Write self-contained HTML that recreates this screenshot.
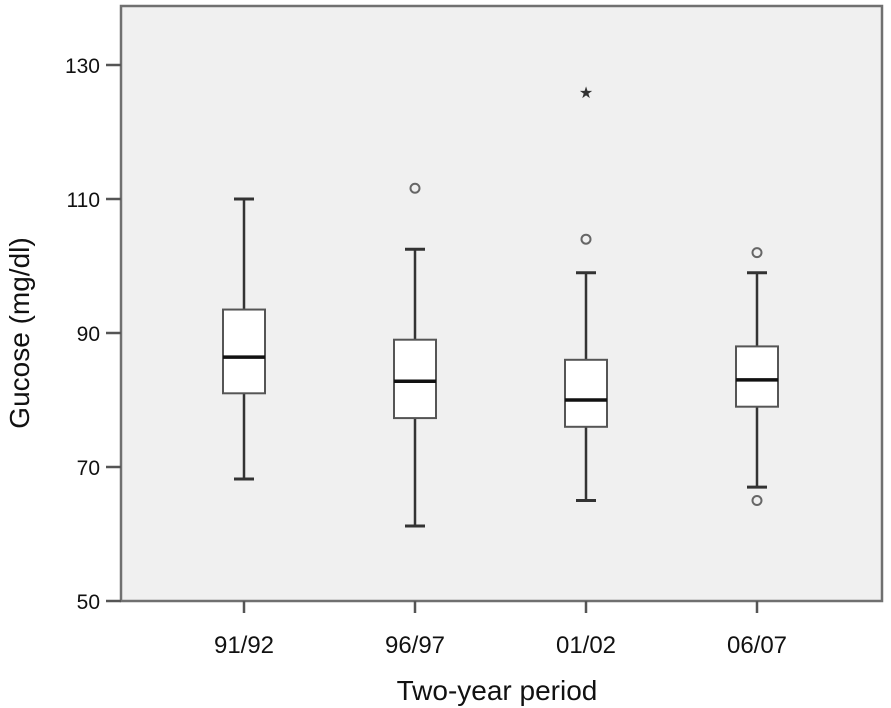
<!DOCTYPE html>
<html><head><meta charset="utf-8"><style>
html,body{margin:0;padding:0;background:#fff;}
svg{display:block;font-family:"Liberation Sans",Arial,sans-serif;}
</style></head><body>
<svg id="chart" width="891" height="708">
<rect x="121" y="6" width="761" height="595" fill="#f0f0f0" stroke="#707070" stroke-width="2.5"/>
<g id="yaxis"></g>
<g id="xaxis"></g>
<g id="boxes"></g>
<text x="29" y="333" transform="rotate(-90 29 333)" text-anchor="middle" font-size="28" fill="#111">Gucose (mg/dl)</text>
<text x="497" y="700" text-anchor="middle" font-size="28" fill="#111">Two-year period</text>
</svg>
<script>
const categories = ["91/92","96/97","01/02","06/07"];
const lowWhisker = [68.2, 61.2, 65, 67];
const q1 = [81, 77.3, 76, 79];
const median = [86.4, 82.8, 80, 83];
const q3 = [93.5, 89, 86, 88];
const highWhisker = [110, 102.5, 99, 99];
const outlierCat = [1, 2, 3, 3];
const outlierVal = [111.6, 104, 102, 65];
const extremeCat = [2];
const extremeVal = [126];
const yTicks = [50, 70, 90, 110, 130];

const NS = "http://www.w3.org/2000/svg";
const y = v => 601 - (v - 50) * 6.7;
const x = i => 244 + 171 * i;
function mk(tag, attrs, parent, text){
  const e = document.createElementNS(NS, tag);
  for (const k in attrs) e.setAttribute(k, attrs[k]);
  if (text !== undefined) e.textContent = text;
  parent.appendChild(e); return e;
}
const ya = document.getElementById('yaxis'), xa = document.getElementById('xaxis'), bx = document.getElementById('boxes');
yTicks.forEach(t => {
  const l = mk('line', {x1:106, x2:121, y1:y(t), y2:y(t), stroke:'#555', 'stroke-width':2.5}, ya);
  
  
  const tx = mk('text', {x:100, y:y(t)+8, 'text-anchor':'end', 'font-size':21, fill:'#111'}, ya, t);
  
  
});
categories.forEach((c, i) => {
  const l = mk('line', {x1:x(i), x2:x(i), y1:601, y2:613, stroke:'#555', 'stroke-width':2.5}, xa);
  
  
  const tx = mk('text', {x:x(i), y:653, 'text-anchor':'middle', 'font-size':24, fill:'#111'}, xa, c);
  
  
  const g = mk('g', {}, bx);
  
  
  const cx = x(i);
  mk('line', {x1:cx, x2:cx, y1:y(highWhisker[i]), y2:y(q3[i]), stroke:'#333', 'stroke-width':2.5}, g);
  mk('line', {x1:cx, x2:cx, y1:y(q1[i]), y2:y(lowWhisker[i]), stroke:'#333', 'stroke-width':2.5}, g);
  mk('line', {x1:cx-10, x2:cx+10, y1:y(highWhisker[i]), y2:y(highWhisker[i]), stroke:'#333', 'stroke-width':3}, g);
  mk('line', {x1:cx-10, x2:cx+10, y1:y(lowWhisker[i]), y2:y(lowWhisker[i]), stroke:'#333', 'stroke-width':3}, g);
  mk('rect', {x:cx-21, y:y(q3[i]), width:42, height:y(q1[i])-y(q3[i]), fill:'#fff', stroke:'#555', 'stroke-width':2}, g);
  mk('line', {x1:cx-21, x2:cx+21, y1:y(median[i]), y2:y(median[i]), stroke:'#111', 'stroke-width':3.5}, g);
});
outlierCat.forEach((ci, k) => {
  const o = mk('circle', {cx:x(ci), cy:y(outlierVal[k]), r:4.5, fill:'none', stroke:'#666', 'stroke-width':2}, bx);
  
  
});
extremeCat.forEach((ci, k) => {
  const s = mk('text', {x:x(ci), y:y(extremeVal[k])+6, 'text-anchor':'middle', 'font-size':16, fill:'#333'}, bx, '★');
  
  
});
</script>
</body></html>
